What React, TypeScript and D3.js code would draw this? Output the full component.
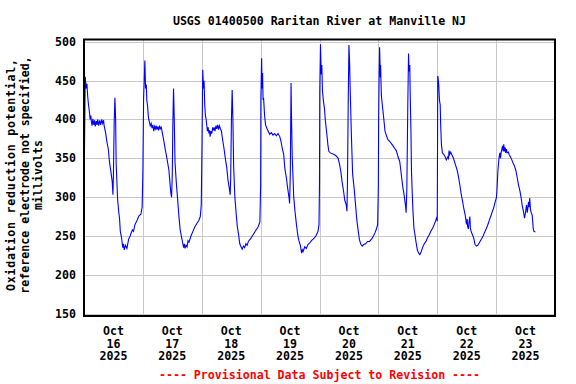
import React, { useEffect, useRef } from 'react';
import * as d3 from 'd3';

const title = 'USGS 01400500 Raritan River at Manville NJ';
const yLabelLines = ['Oxidation reduction potential,', 'reference electrode not specified,', 'millivolts'];
const yTicks = [150, 200, 250, 300, 350, 400, 450, 500];
const dayNumbers = ['16', '17', '18', '19', '20', '21', '22', '23'];
const footnote = '---- Provisional Data Subject to Revision ----';

// [hour of day, mV], one list per day
const oct16 = [[0.1,331],[0.5,455],[0.9,440],[1.2,446],[1.5,430],[1.8,420],[2.2,410],[2.5,400],[2.8,405],[3.0,397],[3.3,392],[3.6,401],[4.0,393],[4.3,399],[4.6,391],[5.0,398],[5.3,393],[5.6,400],[6.0,392],[6.4,399],[6.8,393],[7.2,400],[7.6,395],[8.0,399],[8.2,392],[8.8,383],[9.3,372],[9.9,362],[10.4,345],[11.0,332],[11.5,320],[11.8,303],[12.0,330],[12.3,395],[12.6,428],[12.9,400],[13.1,344],[13.7,297],[14.2,280],[14.5,272],[14.8,256],[15.3,248],[15.8,235],[16.1,240],[16.4,232],[16.9,238],[17.5,234],[18.2,246],[18.8,250],[19.7,258],[20.2,256],[20.7,264],[21.6,270],[22.4,276],[23.2,278],[23.7,287]];
const oct17 = [[0.0,334],[0.3,428],[0.5,445],[0.8,476],[1.1,440],[1.4,445],[1.6,425],[1.9,418],[2.2,405],[2.4,400],[3.0,392],[3.4,395],[3.7,389],[4.1,393],[4.4,385],[4.8,391],[5.1,388],[5.4,392],[5.7,387],[6.1,391],[6.4,386],[6.8,392],[7.1,388],[7.5,390],[7.8,385],[8.4,375],[9.1,362],[9.8,350],[10.6,335],[11.0,320],[11.4,305],[11.7,300],[12.0,330],[12.2,390],[12.5,440],[12.8,400],[13.1,345],[13.6,320],[14.1,300],[14.7,275],[15.2,258],[15.8,248],[16.3,240],[16.6,235],[16.9,240],[17.2,234],[17.6,238],[18.0,236],[18.4,244],[18.8,242],[19.6,250],[20.4,256],[21.2,262],[22.0,266],[22.8,270],[23.4,275],[23.8,290]];
const oct18 = [[0.1,368],[0.4,464],[0.7,440],[0.95,450],[1.2,420],[1.5,405],[1.8,400],[2.3,385],[2.6,390],[2.9,382],[3.2,386],[3.4,378],[3.8,385],[4.1,382],[4.5,390],[4.8,386],[5.1,390],[5.4,385],[5.8,392],[6.1,388],[6.5,393],[6.8,387],[7.2,392],[7.5,389],[8.0,385],[8.6,372],[9.1,362],[9.7,348],[10.2,338],[10.7,322],[11.3,310],[11.6,303],[11.8,325],[12.1,400],[12.4,438],[12.7,400],[13.0,340],[13.5,300],[14.0,280],[14.5,262],[15.0,252],[15.5,240],[16.0,236],[16.5,233],[17.0,237],[17.5,235],[18.0,240],[18.5,238],[19.0,243],[20.0,247],[21.0,252],[22.0,257],[23.0,262],[23.7,268]];
const oct19 = [[0.0,316],[0.1,424],[0.4,479],[0.6,440],[0.8,460],[1.0,425],[1.2,428],[1.6,406],[2.0,393],[2.6,388],[3.1,385],[3.7,381],[4.4,383],[5.0,380],[5.7,382],[6.4,379],[7.1,382],[7.8,378],[8.3,372],[8.8,363],[9.4,355],[9.9,336],[10.5,325],[11.0,312],[11.6,299],[11.8,292],[12.1,330],[12.4,447],[12.6,400],[12.9,350],[13.5,300],[14.0,282],[14.6,265],[15.1,252],[15.6,244],[16.2,238],[16.7,228],[17.0,232],[17.3,230],[18.0,236],[18.6,234],[19.3,239],[20.0,241],[20.7,244],[21.4,246],[22.0,248],[22.7,251],[23.4,256],[23.8,265]];
const oct20 = [[0.0,318],[0.1,434],[0.4,497],[0.7,458],[0.95,470],[1.2,437],[1.6,424],[2.0,415],[2.4,398],[3.0,381],[3.4,368],[3.8,359],[4.4,357],[5.2,356],[6.0,355],[6.8,353],[7.6,350],[8.2,342],[8.7,333],[9.2,320],[9.8,308],[10.3,296],[10.9,290],[11.2,282],[11.4,320],[11.7,420],[12.0,496],[12.3,470],[12.5,440],[13.0,380],[13.5,330],[14.1,312],[14.7,290],[15.2,271],[15.8,256],[16.3,245],[16.9,239],[17.4,237],[18.0,239],[18.8,240],[19.6,243],[20.4,243],[21.2,246],[22.0,250],[22.6,254],[23.1,258],[23.7,265]];
const oct21 = [[0.0,316],[0.1,398],[0.3,454],[0.5,493],[0.8,454],[0.9,470],[1.2,432],[1.6,419],[1.9,410],[2.3,398],[2.7,385],[3.3,379],[3.9,374],[4.6,372],[5.3,369],[6.0,366],[6.6,363],[7.3,360],[8.0,352],[8.7,346],[9.1,336],[9.5,325],[10.0,312],[10.4,305],[10.8,295],[11.1,288],[11.3,280],[11.6,310],[12.0,420],[12.3,485],[12.5,462],[12.8,470],[13.0,428],[13.3,381],[13.5,333],[13.8,305],[14.1,282],[14.5,260],[14.9,252],[15.3,243],[15.9,232],[16.4,228],[16.9,226],[17.5,230],[18.0,235],[18.7,240],[19.4,243],[20.1,248],[20.8,252],[21.4,256],[22.1,260],[22.8,265],[23.4,270],[23.9,275]];
const oct22 = [[0.0,269],[0.1,350],[0.2,456],[0.3,455],[0.6,445],[0.9,425],[1.2,419],[1.4,393],[1.7,368],[2.1,357],[2.7,355],[3.2,352],[3.7,348],[4.3,352],[4.6,350],[4.8,360],[5.1,355],[5.5,358],[5.9,355],[6.5,351],[7.0,346],[7.5,341],[8.1,335],[8.6,327],[9.2,316],[9.7,305],[10.3,295],[10.8,286],[11.4,277],[11.9,265],[12.2,272],[12.4,262],[12.7,259],[13.0,269],[13.3,275],[13.5,260],[13.8,256],[14.3,252],[14.9,247],[15.4,239],[16.0,237],[16.5,238],[17.1,241],[17.6,244],[18.2,247],[18.7,250],[19.2,254],[19.8,258],[20.3,262],[20.9,267],[21.4,272],[22.0,277],[22.5,282],[23.0,286],[23.6,294]];
const oct23 = [[0.1,299],[0.4,312],[0.7,333],[1.0,344],[1.2,351],[1.5,357],[1.8,350],[2.0,357],[2.3,361],[2.6,366],[2.9,359],[3.1,368],[3.4,359],[3.7,364],[3.9,357],[4.2,362],[4.5,357],[5.0,358],[5.3,355],[5.8,352],[6.4,348],[6.9,344],[7.5,340],[8.0,335],[8.6,325],[9.1,316],[9.7,308],[10.2,299],[10.7,288],[11.1,282],[11.6,273],[11.8,277],[12.1,283],[12.4,290],[12.7,280],[12.9,285],[13.2,294],[13.5,287],[13.7,299],[14.0,284],[14.3,280],[14.7,277],[15.0,265],[15.1,260],[15.4,256],[16.0,255]];

const days = [oct16, oct17, oct18, oct19, oct20, oct21, oct22, oct23];

const App = () => {
  const svgRef = useRef<SVGSVGElement>(null);

  useEffect(() => {
    const width = 576;
    const height = 384;
    const left = 84;
    const right = 555;
    const top = 39.5;
    const bottom = 316;
    const font = '"DejaVu Sans Mono", "Liberation Mono", monospace';
    const fontSize = '11.6px';

    const start = new Date(2025, 9, 16);
    const end = new Date(2025, 9, 24);

    const points = days.flatMap((pts, i) => {
      const base = d3.timeDay.offset(start, i).getTime();
      return pts.map(([h, v]) => ({ t: new Date(base + h * 3600 * 1000), v }));
    });

    const x = d3.scaleTime().domain([start, end]).range([left, right]);
    const y = d3.scaleLinear().domain([147, 503]).range([bottom, top]);

    const svg = d3.select(svgRef.current)
      .attr('width', width)
      .attr('height', height);
    svg.selectAll('*').remove();

    svg.append('rect').attr('width', width).attr('height', height).attr('fill', '#fff');

    // grid
    const midnights = d3.timeDay.range(d3.timeDay.offset(start, 1), end);
    svg.append('g')
      .selectAll('line')
      .data(midnights)
      .enter().append('line')
      .attr('x1', d => Math.round(x(d)) + 0.5)
      .attr('x2', d => Math.round(x(d)) + 0.5)
      .attr('y1', top)
      .attr('y2', bottom)
      .attr('stroke', '#c8c8c8')
      .attr('stroke-width', 1);

    svg.append('g')
      .selectAll('line')
      .data(yTicks)
      .enter().append('line')
      .attr('x1', left)
      .attr('x2', right)
      .attr('y1', d => Math.round(y(d)) + 0.5)
      .attr('y2', d => Math.round(y(d)) + 0.5)
      .attr('stroke', '#c8c8c8')
      .attr('stroke-width', 1);

    // data line
    const line = d3.line<{ t: Date; v: number }>()
      .x(d => x(d.t))
      .y(d => y(d.v));

    svg.append('path')
      .datum(points)
      .attr('d', line)
      .attr('fill', 'none')
      .attr('stroke', '#0000ff')
      .attr('stroke-width', 1.1);

    // frame
    svg.append('rect')
      .attr('x', left)
      .attr('y', top)
      .attr('width', right - left)
      .attr('height', bottom - top)
      .attr('fill', 'none')
      .attr('stroke', '#000')
      .attr('stroke-width', 2);

    const txt = (g: any) => g
      .attr('font-family', font)
      .attr('font-weight', 'bold')
      .attr('font-size', fontSize);

    // y tick labels
    svg.append('g').call(txt)
      .selectAll('text')
      .data(yTicks)
      .enter().append('text')
      .attr('x', 76)
      .attr('y', d => y(d) + 4)
      .attr('text-anchor', 'end')
      .text(d => d);

    // x tick labels at noon of each day
    const xl = svg.append('g').call(txt)
      .selectAll('g')
      .data(dayNumbers)
      .enter().append('g')
      .attr('transform', (d, i) => `translate(${x(d3.timeHour.offset(d3.timeDay.offset(start, i), 12))},0)`);
    xl.append('text').attr('y', 335).attr('text-anchor', 'middle').text('Oct');
    xl.append('text').attr('y', 347.5).attr('text-anchor', 'middle').text(d => d);
    xl.append('text').attr('y', 360).attr('text-anchor', 'middle').text('2025');

    // y axis label
    const yl = svg.append('g').call(txt)
      .attr('transform', 'translate(0,175)');
    yLabelLines.forEach((s, i) => {
      const t = yl.append('text')
        .attr('transform', `translate(${15 + i * 13.5},0) rotate(-90)`)
        .attr('text-anchor', 'middle')
        .text(s);
      if (i === 0) t.attr('textLength', 232).attr('lengthAdjust', 'spacing');
    });

    svg.append('text').call(txt)
      .attr('x', (left + right) / 2)
      .attr('y', 24.5)
      .attr('text-anchor', 'middle')
      .text(title);

    svg.append('text').call(txt)
      .attr('x', (left + right) / 2)
      .attr('y', 379)
      .attr('text-anchor', 'middle')
      .attr('fill', '#ff0000')
      .text(footnote);
  }, []);

  return (
    <svg ref={svgRef} style={{ position: 'absolute', left: 0, top: 0 }}></svg>
  );
};

export default App;
